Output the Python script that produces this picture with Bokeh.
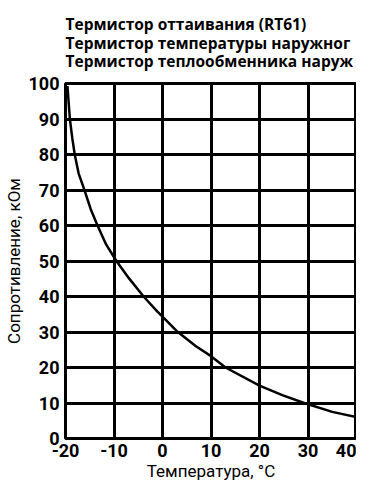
from bokeh.plotting import figure
from bokeh.models import Range1d, FixedTicker, Title
from bokeh.embed import file_html
from bokeh.resources import INLINE

# Data
temps = [-19.6, -19.1, -18.6, -18.1, -17.3, -16.1, -14.8, -13.4, -11.6, -9.5, -6.9, -3.9,
         -1.1, 0, 2.9, 6.9, 10, 13.0, 20, 24.7, 29.2, 35, 40]
resist = [99.3, 90, 84.6, 80, 74.7, 70, 64.6, 60, 54.6, 50, 45.1, 40,
          35.8, 34.3, 30.3, 26, 23.2, 20, 14.9, 12.2, 10, 7.5, 6.0]
x_ticks = [-20, -10, 0, 10, 20, 30, 40]
x_tick_labels = ["-20", "-10", "0", "10", "20", "30", "40"]
y_ticks = [0, 10, 20, 30, 40, 50, 60, 70, 80, 90, 100]
title_lines = [
    "Термистор оттаивания (RT61)",
    "Термистор температуры наружног",
    "Термистор теплообменника наруж",
]
x_title = "Температура, °C"
y_title = "Сопротивление, кОм"

FONT = "Open Sans"
AXFONT = "Roboto"

p = figure(width=356, height=483, output_backend="svg", toolbar_location=None,
           x_range=Range1d(-20, 40), y_range=Range1d(0, 100),
           min_border_left=60, min_border_right=0, min_border_top=75, min_border_bottom=43)

p.line(temps, resist, line_color="black", line_width=2.5)

for ax in (p.xaxis[0], p.yaxis[0]):
    ax.axis_line_color = None
    ax.major_tick_line_color = None
    ax.minor_tick_line_color = None
    ax.major_tick_out = 0
    ax.major_tick_in = 0
    ax.minor_tick_out = 0
    ax.minor_tick_in = 0
    ax.major_label_text_font = AXFONT
    ax.major_label_text_font_style = "bold"
    ax.major_label_text_font_size = "18px"
    ax.major_label_text_color = "black"
    ax.axis_label_text_font = AXFONT
    ax.axis_label_text_font_style = "normal"
    ax.axis_label_text_font_size = "17px"
    ax.axis_label_text_color = "black"

p.xaxis.ticker = FixedTicker(ticks=x_ticks)
p.xaxis.major_label_overrides = dict(zip(x_ticks, x_tick_labels))
p.yaxis.ticker = FixedTicker(ticks=y_ticks)
p.xaxis.axis_label = x_title
p.yaxis.axis_label = y_title
p.xaxis.major_label_standoff = 5
p.yaxis.major_label_standoff = 6
p.xaxis.axis_label_standoff = 1
p.yaxis.axis_label_standoff = 2

p.xgrid.ticker = FixedTicker(ticks=x_ticks)
p.ygrid.ticker = FixedTicker(ticks=y_ticks)
for g in (p.xgrid[0], p.ygrid[0]):
    g.grid_line_color = "black"
    g.grid_line_width = 3
    g.grid_line_alpha = 1

p.outline_line_color = "black"
p.outline_line_width = 3
p.outline_line_alpha = 1
p.background_fill_color = "white"
p.border_fill_color = "white"

p.add_layout(Title(text="\n".join(title_lines), align="left", text_font=FONT,
                   text_font_style="bold", text_font_size="15.5px", text_color="black",
                   text_line_height=0.85, standoff=22, offset=0), "above")

open("out.html", "w").write(file_html(p, INLINE))
